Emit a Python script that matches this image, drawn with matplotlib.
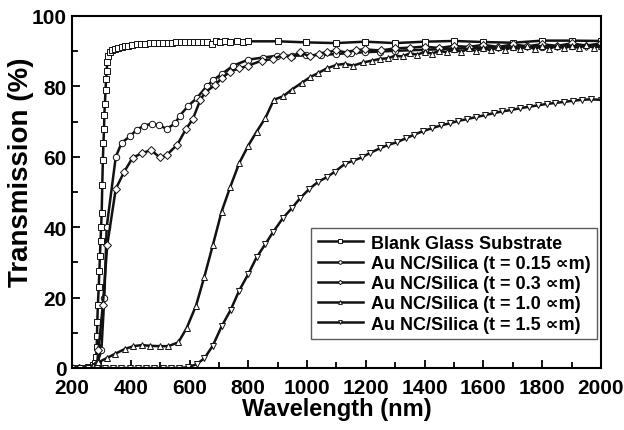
import numpy as np
import matplotlib
matplotlib.use('Agg')
import matplotlib.pyplot as plt
from matplotlib.ticker import MultipleLocator

plt.rcParams['font.family'] = ['Liberation Sans', 'DejaVu Sans']
plt.rcParams['font.weight'] = 'bold'

# blank glass substrate
wl_blank = [200, 220, 240, 255, 265, 272, 278, 282, 284, 285, 286, 288, 291, 293, 295, 297, 299, 301,
            303, 305, 307, 309, 310, 312, 314, 316, 318, 320, 324, 329, 337, 346, 358, 370, 380, 392,
            405, 420, 435, 450, 465, 480, 495, 510, 525, 540, 555, 570, 585, 600, 615, 630, 645, 660,
            675, 690, 704, 720, 738, 760, 781, 800, 902, 998, 1098, 1198, 1299, 1401, 1501, 1600, 1700,
            1801, 1900, 2000]
T_blank = [0, 0, 0, 0.2, 0.4, 0.8, 1.5, 3, 6, 9, 13, 18, 23, 27.5, 31.7, 36, 40, 44,
           52, 59, 64, 68, 72, 75, 79, 82, 84.5, 86.8, 88.7, 89.7, 90.3, 90.6, 90.9, 91.2, 91.4, 91.6,
           91.8, 92.0, 92.0, 92.1, 92.2, 92.2, 92.3, 92.3, 92.4, 92.4, 92.5, 92.5, 92.6, 92.5, 92.6,
           92.7, 92.6, 92.7, 91.9, 92.8, 92.6, 92.8, 92.7, 93.0, 92.6, 92.8, 92.8, 92.5, 92.3, 92.7,
           92.3, 92.7, 92.9, 92.6, 92.4, 93.0, 93.0, 92.9]

# Au NC/Silica t = 0.15
wl_015 = [200, 225, 250, 270, 285, 300, 310, 318, 349, 369, 397, 420, 445, 471, 497, 522, 551, 567,
          596, 624, 658, 681, 709, 749, 800, 851, 897, 948, 998, 1049, 1100, 1151, 1197, 1248, 1299,
          1400, 1500, 1600, 1700, 1800, 1900, 2000]
T_015 = [0, 0, 0, 0.3, 1.2, 5, 20, 40, 60, 64, 65.8, 67.7, 68.8, 69.4, 69, 67.9, 69.5, 71.7,
         74.5, 76.6, 80, 81.8, 83.5, 85.9, 87.6, 88.2, 88.7, 88.7, 88.8, 88.9, 89.2, 89.5, 89.7, 89.9,
         90.1, 90.4, 90.7, 91.0, 91.1, 91.3, 91.5, 91.6]

# Au NC/Silica t = 0.3
wl_03 = [200, 225, 250, 270, 285, 290, 305, 320, 349, 378, 406, 437, 469, 499, 522, 558, 588, 611,
         636, 653, 687, 712, 738, 769, 800, 845, 885, 917, 945, 976, 1010, 1040, 1067, 1100, 1135,
         1165, 1197, 1250, 1299, 1350, 1400, 1450, 1500, 1550, 1600, 1650, 1700, 1750, 1800, 1850,
         1900, 1950, 2000]
T_03 = [0, 0, 0, 0.2, 1, 5, 18, 35, 50.9, 55.8, 59.7, 61, 61.9, 59.8, 60.5, 63.4, 67.9, 70.7,
        76, 78.3, 80.4, 82.5, 84.2, 85.1, 85.9, 87.3, 87.8, 88.9, 88.3, 89.7, 88.5, 89.3, 89.7, 90.2,
        89.6, 90.3, 90.5, 90.2, 90.8, 91.0, 91.3, 90.9, 91.5, 91.2, 91.8, 91.2, 91.9, 91.4, 92.0,
        91.5, 92.2, 91.6, 92.2]

# Au NC/Silica t = 1.0
wl_10 = [200, 225, 250, 270, 290, 318, 346, 380, 409, 437, 465, 499, 528, 562, 590, 622, 650, 679,
         709, 738, 769, 800, 828, 858, 887, 919, 948, 982, 1010, 1038, 1067, 1100, 1129, 1157, 1191,
         1220, 1248, 1276, 1299, 1325, 1350, 1375, 1400, 1425, 1450, 1475, 1500, 1525, 1550, 1575,
         1600, 1625, 1650, 1675, 1700, 1725, 1750, 1775, 1800, 1825, 1850, 1875, 1900, 1925, 1950,
         1975, 2000]
T_10 = [0, 0, 0.2, 0.5, 1.6, 2.8, 4, 5.4, 6.2, 6.5, 6.3, 6.2, 6.2, 7.3, 11.3, 17.7, 25.8, 34.8,
        44.4, 51.3, 58.2, 63.2, 67.1, 71, 76.2, 77.2, 79.1, 81, 82.6, 83.8, 85.1, 86.1, 86.4, 85.9,
        86.8, 87.3, 87.8, 88, 88.7, 88.5, 89.4, 89, 89.8, 89.3, 90.1, 89.7, 90.5, 89.8, 90.8, 90,
        91, 90.2, 91.2, 90.4, 91.2, 90.6, 91.4, 90.6, 91.5, 90.7, 91.5, 90.8, 91.6, 90.9, 91.7,
        91, 91.5]

# Au NC/Silica t = 1.5
wl_15 = [200, 228, 256, 284, 312, 340, 368, 396, 424, 452, 480, 508, 536, 564, 596, 624, 650, 679,
         709, 740, 769, 800, 828, 858, 885, 917, 948, 976, 1008, 1038, 1067, 1095, 1129, 1157, 1186,
         1214, 1248, 1276, 1305, 1335, 1365, 1395, 1425, 1455, 1485, 1515, 1545, 1575, 1605, 1635,
         1665, 1695, 1725, 1755, 1785, 1815, 1845, 1875, 1905, 1935, 1965, 2000]
T_15 = [0, 0, 0, 0, 0, 0, 0, 0, 0, 0, 0, 0, 0, 0, 0.2, 1.1, 2.7, 6.3,
        11.8, 16.5, 22, 26.7, 31.4, 35.2, 38.7, 42.5, 45.4, 48.2, 50.9, 52.9, 54.2, 55.8, 58, 58.9,
        59.8, 61.1, 62.4, 63.4, 64.1, 65.2, 66.3, 67.3, 68.1, 68.9, 69.5, 70.2, 70.7, 71.3, 71.8,
        72.4, 72.9, 73.3, 73.8, 74.2, 74.6, 75.0, 75.3, 75.6, 75.9, 76.2, 76.3, 76.2]

labels = ['Blank Glass Substrate',
          'Au NC/Silica (t = 0.15 \u221dm)',
          'Au NC/Silica (t = 0.3 \u221dm)',
          'Au NC/Silica (t = 1.0 \u221dm)',
          'Au NC/Silica (t = 1.5 \u221dm)']

fig = plt.figure(figsize=(6.24, 4.31), dpi=100)
ax = fig.add_axes([0.1154, 0.1439, 0.963 - 0.1154, 0.9606 - 0.1439])

series = [(wl_blank, T_blank, 's'), (wl_015, T_015, 'o'), (wl_03, T_03, 'D'),
          (wl_10, T_10, '^'), (wl_15, T_15, 'v')]
sizes = {'s': 4.4, 'o': 4.6, 'D': 4.0, '^': 5.0, 'v': 5.0}
for (x, y, m), lab in zip(series, labels):
    ax.plot(x, y, color='#111111', lw=1.8, marker=m, ms=sizes[m], mfc='white', mec='#111111',
            mew=0.7, label=lab)

ax.set_xlim(200, 2000)
ax.set_ylim(0, 100)
ax.xaxis.set_major_locator(MultipleLocator(200))
ax.xaxis.set_minor_locator(MultipleLocator(100))
ax.yaxis.set_major_locator(MultipleLocator(20))
ax.yaxis.set_minor_locator(MultipleLocator(10))
ax.tick_params(which='both', direction='in', width=1.3, labelsize=15)
ax.tick_params(axis='x', pad=7)
ax.tick_params(axis='y', pad=4)
ax.tick_params(which='major', length=6)
ax.tick_params(which='minor', length=4)
for lbl in ax.get_xticklabels() + ax.get_yticklabels():
    lbl.set_fontweight('bold')
for sp in ax.spines.values():
    sp.set_linewidth(1.5)

ax.set_xlabel('Wavelength (nm)', fontsize=17, fontweight='bold', labelpad=0)
ax.set_ylabel('Transmission (%)', fontsize=20, fontweight='bold')
ax.yaxis.set_label_coords(-0.072, 0.56)

leg = ax.legend(loc='lower right', bbox_to_anchor=(0.9924, 0.0824), frameon=True,
                fancybox=False, edgecolor='#333333', handlelength=2.5, handletextpad=0.45,
                labelspacing=0.18, borderpad=0.35, borderaxespad=0, markerscale=0.55,
                prop={'weight': 'bold', 'size': 13, 'family': ['Liberation Sans', 'DejaVu Sans']})
leg.get_frame().set_linewidth(1.0)

fig.savefig('out.png', dpi=100)
